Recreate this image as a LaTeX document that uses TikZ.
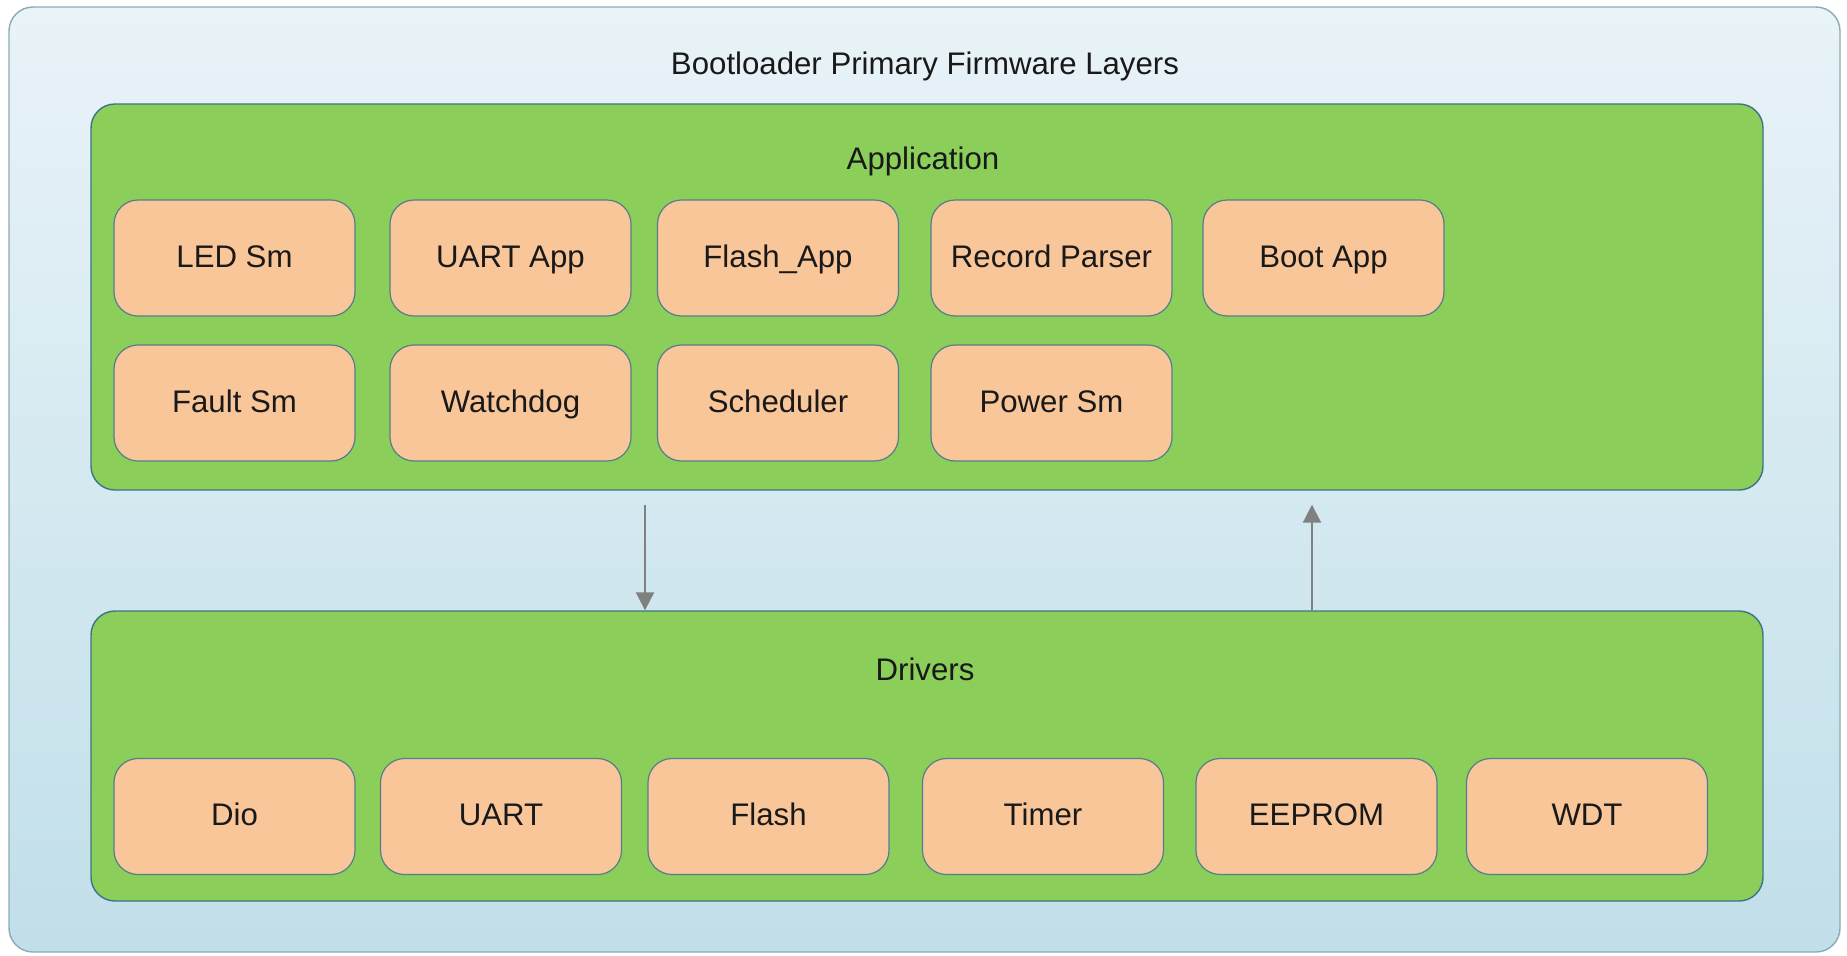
\documentclass[tikz,border=0pt]{standalone}
\usepackage{fontspec}
\setmainfont{Liberation Sans}
\usetikzlibrary{arrows.meta}
\definecolor{outerTop}{RGB}{233,243,248}
\definecolor{outerBot}{RGB}{193,223,233}
\definecolor{outerLine}{RGB}{140,170,182}
\definecolor{layerFill}{RGB}{139,207,90}
\definecolor{layerLine}{RGB}{60,115,135}
\definecolor{modFill}{RGB}{249,198,154}
\definecolor{modLine}{RGB}{85,125,140}
\definecolor{arrGray}{RGB}{128,128,128}
\begin{document}
\begin{tikzpicture}[x=0.5pt,y=-0.5pt,
  every node/.style={font=\fontsize{15.6pt}{18pt}\selectfont, text=black!90},
  outerbox/.style={draw=outerLine, line width=0.7pt, rounded corners=12pt, top color=outerTop, bottom color=outerBot, minimum width=915.5pt, minimum height=472.5pt, inner sep=0pt},
  layerbox/.style={draw=layerLine, line width=0.7pt, rounded corners=12pt, fill=layerFill, minimum width=836pt, inner sep=0pt},
  modbox/.style={draw=modLine, line width=0.6pt, rounded corners=12pt, fill=modFill, minimum width=120.5pt, minimum height=58pt, inner sep=0pt, text height=0.94em, text depth=0pt},
  lbl/.style={inner sep=0pt, text height=0.94em, text depth=0pt},
  flow/.style={draw=arrGray, line width=1.1pt, -{Triangle[length=9pt,width=9pt]}}
]
\useasboundingbox (0,0) rectangle (1847,955);
\node[outerbox] (outer) at (924.5,479.5) {};
\node[lbl] (title) at (925,65) {Bootloader Primary Firmware Layers};

\node[layerbox, minimum height=193pt] (app) at (927,297) {};
\node[lbl] (applbl) at (923,160) {Application};

\node[layerbox, minimum height=145pt] (drv) at (927,756) {};
\node[lbl] (drvlbl) at (925,671) {Drivers};

% application modules
\node[modbox] (ledsm) at (234.5,258) {LED Sm};
\node[modbox] (uartapp) at (510.5,258) {UART App};
\node[modbox] (flashapp) at (778,258) {Flash\_App};
\node[modbox] (recparser) at (1051.5,258) {Record Parser};
\node[modbox] (bootapp) at (1323.5,258) {Boot App};
\node[modbox] (faultsm) at (234.5,403) {Fault Sm};
\node[modbox] (wdog) at (510.5,403) {Watchdog};
\node[modbox] (sched) at (778,403) {Scheduler};
\node[modbox] (powersm) at (1051.5,403) {Power Sm};

% driver modules
\node[modbox] (dio) at (234.5,816.5) {Dio};
\node[modbox] (uart) at (501,816.5) {UART};
\node[modbox] (flash) at (768.5,816.5) {Flash};
\node[modbox] (timer) at (1043,816.5) {Timer};
\node[modbox] (eeprom) at (1316.5,816.5) {EEPROM};
\node[modbox] (wdt) at (1587,816.5) {WDT};

% arrows
\coordinate (downx) at (645,0);
\coordinate (upx) at (1312,0);
\draw[flow, shorten <=7pt] (app.south -| downx) -- (drv.north -| downx);
\draw[flow, shorten >=7pt] (drv.north -| upx) -- (app.south -| upx);
\end{tikzpicture}
\end{document}
